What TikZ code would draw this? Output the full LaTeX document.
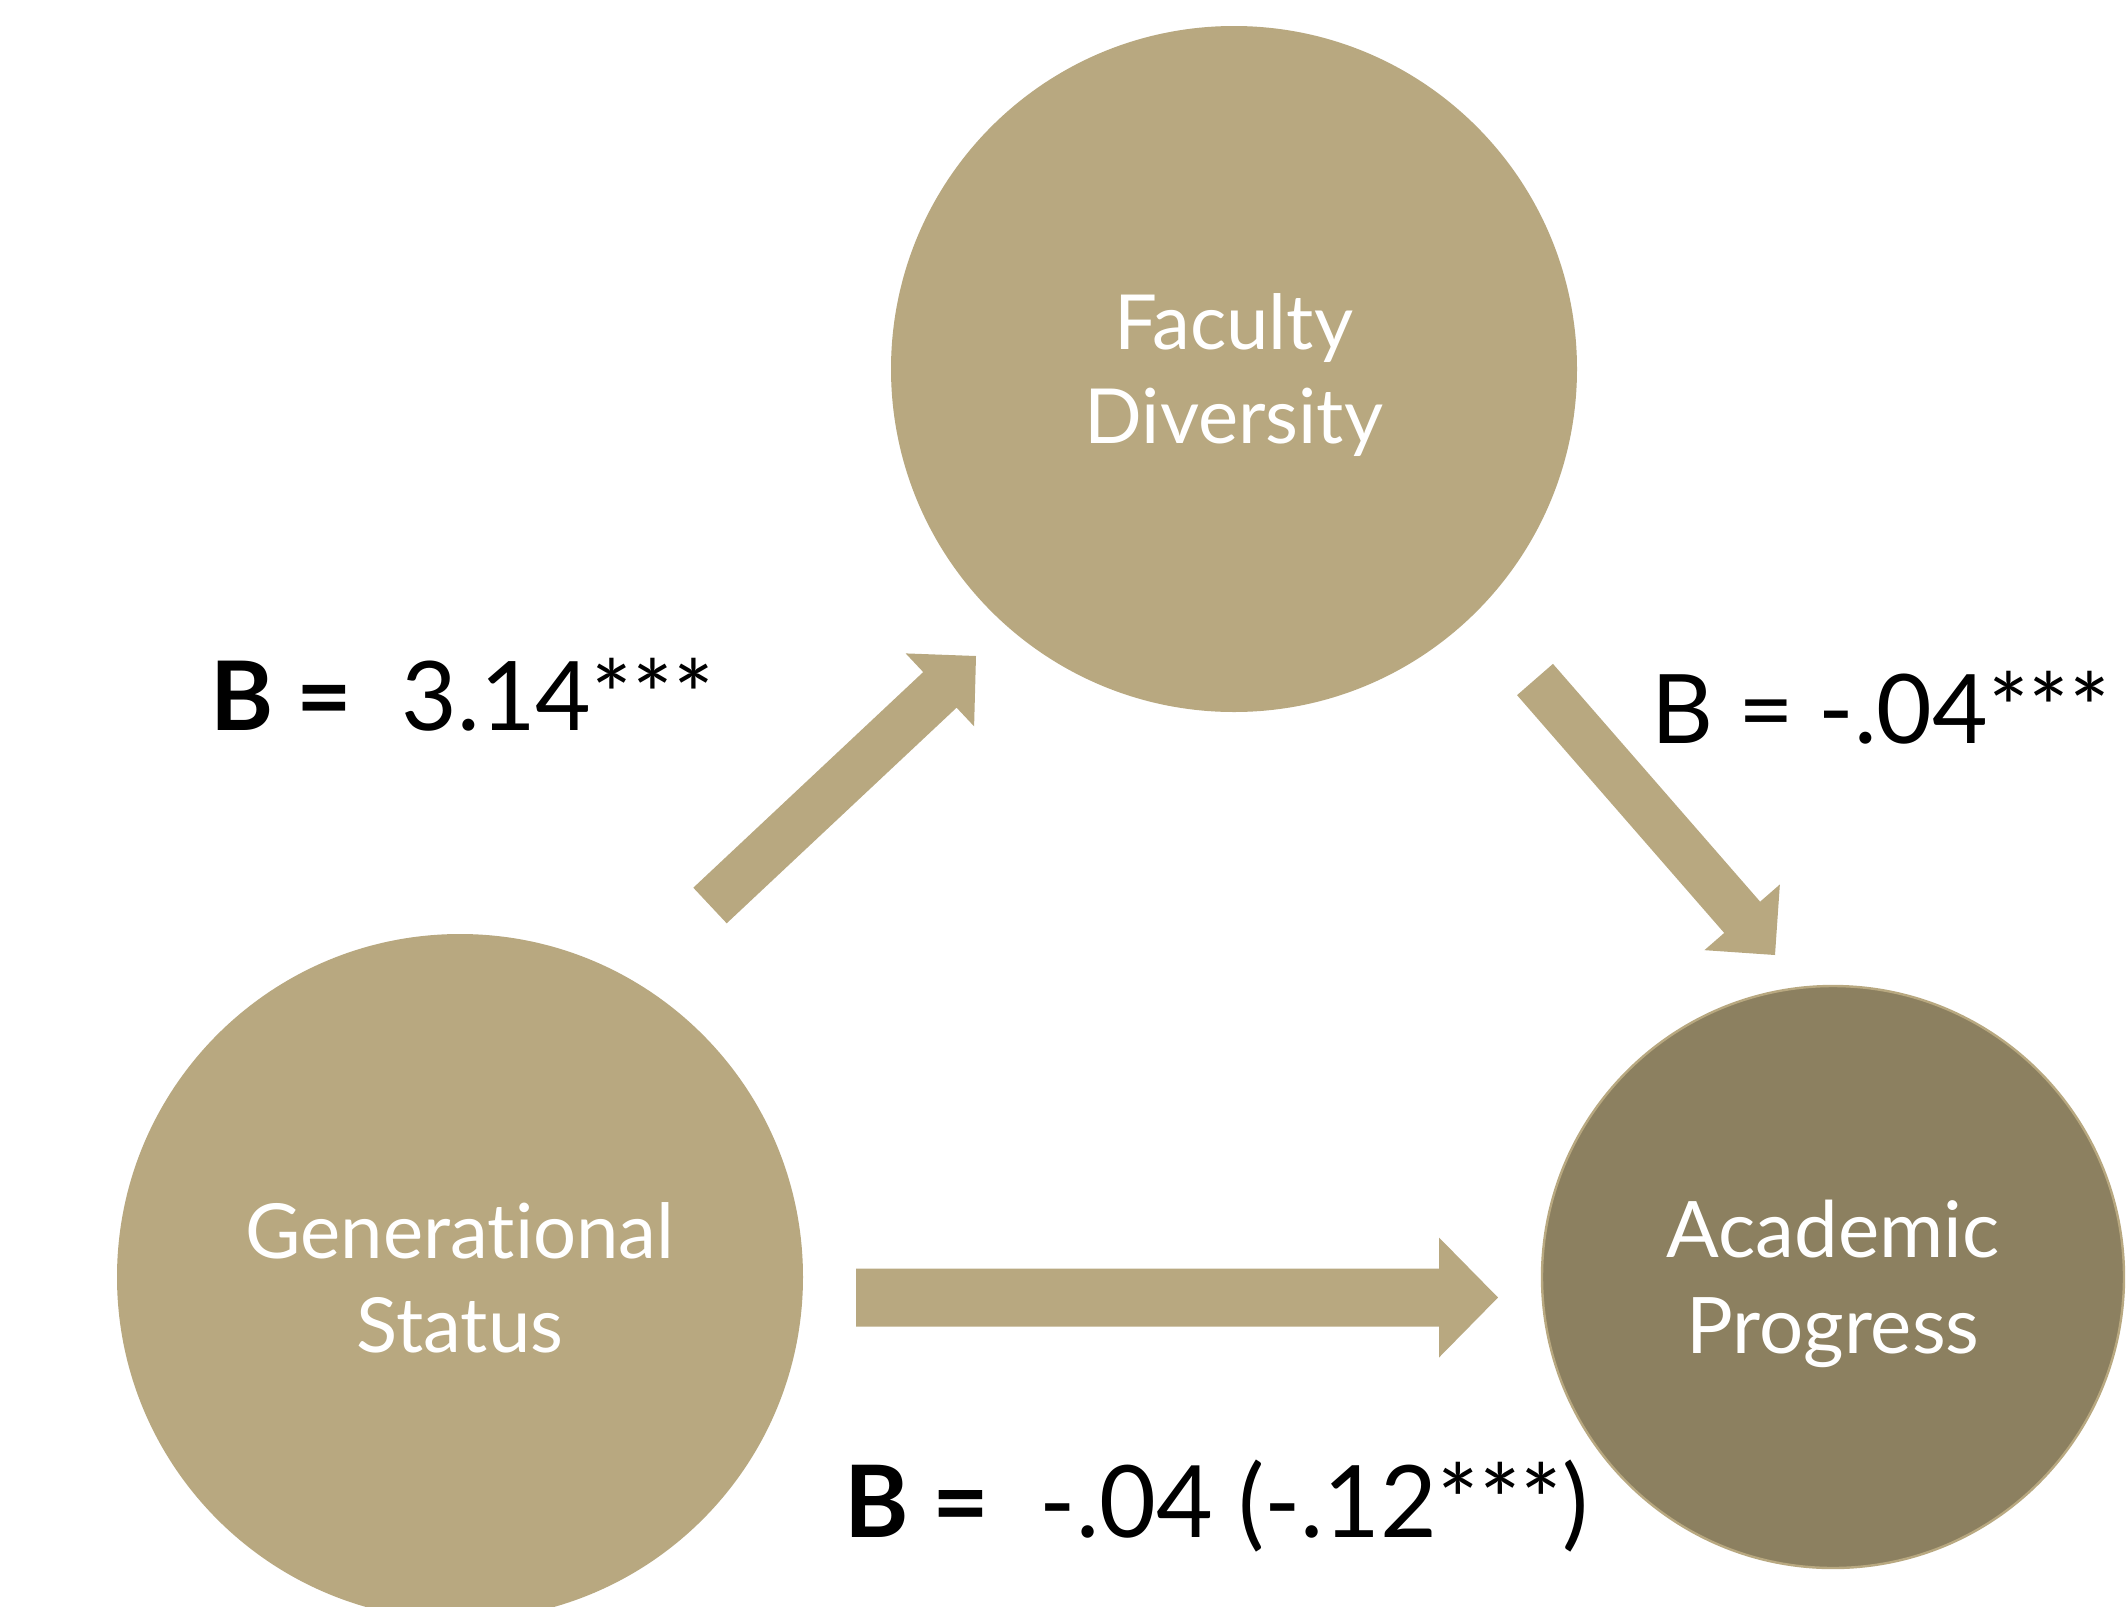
\documentclass[tikz,border=0pt]{standalone}
\usepackage{fontspec}
\usepackage{graphicx}
\setmainfont{Lato}[Ligatures=NoCommon]
\usetikzlibrary{calc}

\definecolor{sandtan}{HTML}{B8A880}
\definecolor{sanddark}{HTML}{8C8060}

% Block arrow from start coordinate #1 to tip coordinate #2:
% #3 shaft half-width, #4 head half-width, #5 head length
\newcommand\blockarrow[5]{%
  \coordinate (#1#2hb) at ($(#2)!#5!(#1)$);
  \fill[arrowfill]
    ($(#1)!#3!90:(#2)$) -- ($(#1#2hb)!#3!90:(#2)$) --
    ($(#1#2hb)!#4!90:(#2)$) -- (#2) --
    ($(#1#2hb)!#4!-90:(#2)$) -- ($(#1#2hb)!#3!-90:(#2)$) --
    ($(#1)!#3!-90:(#2)$) -- cycle;}

\begin{document}
\begin{tikzpicture}[x=0.5pt,y=-0.5pt,
  bubble/.style={circle, fill=sandtan, draw=none, text=white, align=center,
    inner sep=0pt, text depth=0pt,
    font=\fontsize{38}{47}\selectfont},
  lbl/.style={inner sep=0pt, text=black, font=\fontsize{48}{56}\selectfont},
  arrowfill/.style={fill=sandtan}]

\clip (0,0) rectangle (2127,1607);
\fill[white] (0,0) rectangle (2127,1607);

% variables
\node[bubble, minimum size=343pt] (fd) at (1234,369) {Faculty\\Diversity};
\node[bubble, minimum size=343pt] (gs) at (460,1277) {Generational\\Status};
\node[bubble, minimum size=291pt, fill=sanddark, draw=sandtan, line width=1.2pt,
  font=\fontsize{39}{48}\selectfont]
  (ap) at (1833,1277) {Academic\\Progress};

% arrow end points
\coordinate (a1s) at (710,905.5);
\coordinate (a1e) at (976,656);
\coordinate (a2s) at (1535,679.5);
\coordinate (a2e) at (1775,955);
\coordinate (a3s) at (856,1297.5);
\coordinate (a3e) at (1498,1297.5);

\blockarrow{a1s}{a1e}{12.2pt}{25pt}{24.75pt}
\blockarrow{a2s}{a2e}{11.9pt}{25pt}{25pt}
\blockarrow{a3s}{a3e}{14.5pt}{30pt}{29.5pt}

% path coefficients
\node[lbl, anchor=base west] (b1) at (210,730) {{\bfseries B =}\ \ 3.14***};
\node[lbl, anchor=base west] (b2) at (1651,743) {B = -.04***};
\node[lbl, anchor=base west, font=\fontsize{50}{58}\selectfont] (b3) at (844,1537)
  {\scalebox{0.98}[1]{{\bfseries B =}\ \ -.04 (-.12***)}};
\end{tikzpicture}
\end{document}
